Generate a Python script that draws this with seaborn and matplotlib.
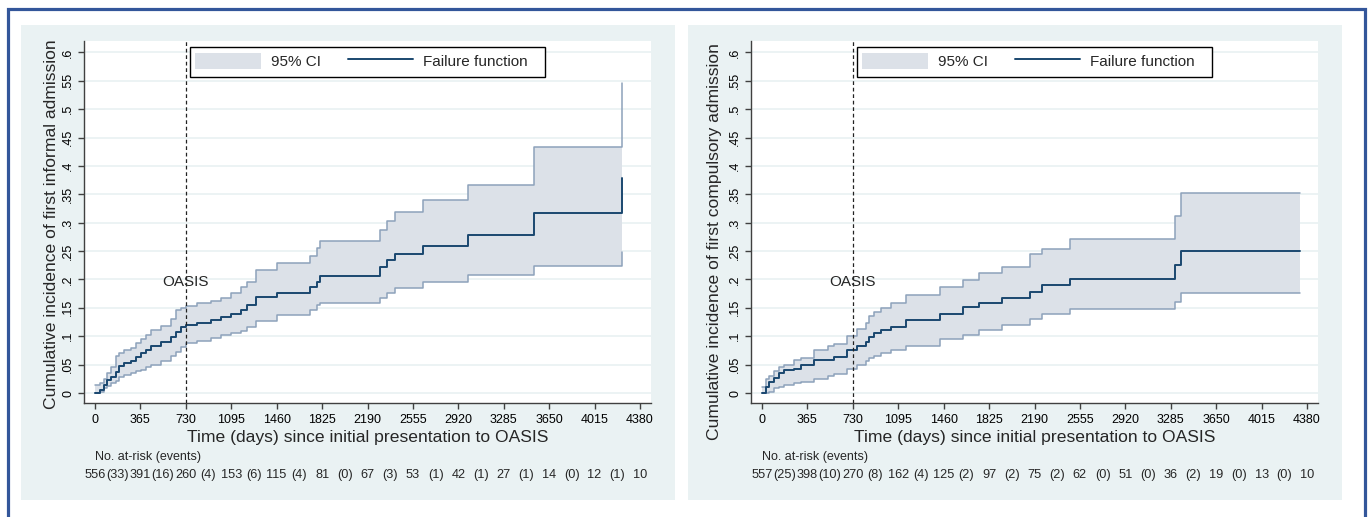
import numpy as np
import pandas as pd
import matplotlib
matplotlib.use("Agg")
import matplotlib.pyplot as plt
from matplotlib import transforms
from matplotlib.patches import Rectangle, Patch
from matplotlib.lines import Line2D
import seaborn as sns

# ---- informal admission (left panel) ----
informal_days = [0, 40, 72, 96, 128, 169, 193, 233, 289, 330, 370, 410, 450, 530,
                 611, 651, 691, 731, 820, 932, 1013, 1093, 1174, 1222, 1294, 1463,
                 1728, 1785, 1808, 2291, 2347, 2411, 2637, 2998, 3530, 4236]
informal_est = [0, .005, .014, .023, .028, .037, .047, .053, .057, .064, .070, .076,
                .083, .090, .099, .107, .116, .120, .123, .128, .133, .139, .146, .155,
                .169, .177, .187, .196, .206, .222, .234, .245, .259, .279, .317, .378]
informal_hi = [.014, .018, .025, .035, .045, .065, .070, .075, .080, .088, .095, .102,
               .111, .118, .131, .146, .150, .153, .158, .162, .167, .176, .187, .196,
               .217, .229, .241, .255, .268, .287, .303, .319, .340, .366, .433, .546]
informal_lo = [0, .002, .008, .012, .017, .022, .028, .032, .036, .039, .041, .045,
               .049, .056, .065, .072, .081, .088, .092, .097, .102, .105, .109, .116,
               .126, .138, .147, .155, .158, .167, .176, .185, .196, .208, .224, .248]
informal_at_risk = [556, 391, 260, 153, 115, 81, 67, 53, 42, 27, 14, 12, 10]
informal_events = [33, 16, 4, 6, 4, 0, 3, 1, 1, 1, 0, 1]

# ---- compulsory admission (right panel) ----
compulsory_days = [0, 32, 59, 99, 139, 179, 259, 313, 420, 527, 580, 687, 767, 834,
                   861, 901, 954, 1035, 1155, 1427, 1612, 1748, 1925, 2157, 2254,
                   2478, 3320, 3368, 4322]
compulsory_est = [0, .011, .020, .026, .035, .040, .043, .049, .058, .059, .064, .076,
                  .083, .090, .099, .105, .111, .116, .128, .140, .151, .158, .167,
                  .178, .190, .200, .225, .250, .250]
compulsory_hi = [.011, .024, .030, .038, .045, .050, .058, .062, .075, .082, .087, .100,
                 .112, .123, .135, .143, .149, .158, .173, .187, .199, .211, .222,
                 .245, .254, .271, .312, .352, .352]
compulsory_lo = [0, 0, .002, .008, .011, .014, .017, .019, .024, .030, .034, .043,
                 .050, .057, .062, .066, .070, .076, .082, .095, .102, .111, .120,
                 .130, .139, .148, .160, .176, .176]
compulsory_at_risk = [557, 398, 270, 162, 125, 97, 75, 62, 51, 36, 19, 13, 10]
compulsory_events = [25, 10, 8, 4, 2, 2, 2, 0, 0, 2, 0, 0]

tick_days = [0, 365, 730, 1095, 1460, 1825, 2190, 2555, 2920, 3285, 3650, 4015, 4380]
y_ticks = [0, .05, .1, .15, .2, .25, .3, .35, .4, .45, .5, .55, .6]
y_tick_labels = ["0", ".05", ".1", ".15", ".2", ".25", ".3", ".35", ".4", ".45",
                 ".5", ".55", ".6"]

NAVY = "#1A476F"
CI_FILL = "#DCE1E8"
CI_EDGE = "#8DA2BB"
PANEL = "#EAF2F3"
FRAME = "#33569A"
AXIS = "#404040"

sns.set_theme(style="white")
plt.rcParams["font.family"] = ["Liberation Sans", "DejaVu Sans"]

W, H = 1368, 517
fig = plt.figure(figsize=(W / 100, H / 100), dpi=100)
fig.patch.set_facecolor("white")


def fig_rect(x0, y0, x1, y1, **kw):
    # pixel box measured from the top-left corner
    r = Rectangle((x0 / W, 1 - y1 / H), (x1 - x0) / W, (y1 - y0) / H,
                  transform=fig.transFigure, **kw)
    fig.patches.append(r)


fig_rect(21, 25, 675, 500, facecolor=PANEL, edgecolor="none", zorder=-2)
fig_rect(688, 25, 1342, 500, facecolor=PANEL, edgecolor="none", zorder=-2)
fig_rect(8, 9, 1365, 540, facecolor="none", edgecolor=FRAME, lw=2.3, zorder=-1)


def draw_panel(ax, days, est, lo, hi, at_risk, events, ylabel, ylabel_xy):
    ax.set_facecolor("white")
    ax.fill_between(days, lo, hi, step="post", color=CI_FILL, lw=0, zorder=1)
    df = pd.DataFrame({"day": days, "est": est, "lo": lo, "hi": hi})
    for col, color, lw in [("lo", CI_EDGE, 1.1), ("hi", CI_EDGE, 1.1), ("est", NAVY, 1.4)]:
        sns.lineplot(data=df, x="day", y=col, ax=ax, color=color, lw=lw,
                     drawstyle="steps-post", estimator=None, errorbar=None, zorder=3)

    ax.axvline(730, color="#222222", ls=(0, (3, 2.2)), lw=0.9, zorder=4)
    ax.text(730, 0.196, "OASIS", ha="center", va="center", fontsize=11, zorder=5)

    ax.set_xlim(-88, 4468)
    ax.set_ylim(-0.0176, 0.62)
    ax.set_xticks(tick_days)
    ax.set_yticks(y_ticks)
    ax.set_yticklabels(y_tick_labels, rotation=90, va="center")
    ax.yaxis.grid(True, color=PANEL, lw=1.3)
    ax.xaxis.grid(False)
    ax.set_axisbelow(True)
    for s in ["top", "right"]:
        ax.spines[s].set_visible(False)
    for s in ["left", "bottom"]:
        ax.spines[s].set_color(AXIS)
        ax.spines[s].set_linewidth(1.0)
    ax.tick_params(bottom=True, left=True, direction="out", length=4, width=1,
                   color=AXIS, labelsize=9.0, labelcolor="black")
    ax.tick_params(axis="x", pad=4)
    ax.tick_params(axis="y", pad=3)

    ax.set_xlabel("Time (days) since initial presentation to OASIS", fontsize=12.6,
                  labelpad=3)
    ax.set_ylabel(ylabel, fontsize=12.6)
    ax.yaxis.set_label_coords(*ylabel_xy)

    tr = transforms.blended_transform_factory(ax.transData, ax.transAxes)
    ax.text(0, -0.150, "No. at-risk (events)", transform=tr, ha="left",
            va="center", fontsize=9.0, clip_on=False)
    for d, n in zip(tick_days, at_risk):
        ax.text(d, -0.200, str(n), transform=tr, ha="center", va="center",
                fontsize=9.2, clip_on=False)
    for i, e in enumerate(events):
        mid = (tick_days[i] + tick_days[i + 1]) / 2
        ax.text(mid, -0.200, f"({e})", transform=tr, ha="center", va="center",
                fontsize=9.2, clip_on=False)

    # legend box drawn separately so its width matches the original
    ax.add_patch(Rectangle((0.187, 0.983 - 30 / 362), 0.626, 30 / 362,
                           transform=ax.transAxes, facecolor="white",
                           edgecolor="black", lw=1.0, zorder=6, clip_on=False))
    handles = [Patch(facecolor=CI_FILL, edgecolor="none", label="95% CI"),
               Line2D([], [], color=NAVY, lw=1.4, label="Failure function")]
    leg = ax.legend(handles=handles, ncol=2, loc="upper left",
                    bbox_to_anchor=(0.187, 0.983), borderaxespad=0, fontsize=11,
                    handlelength=4.3, handleheight=1.3, handletextpad=0.65,
                    columnspacing=1.75, borderpad=0.35, frameon=False)
    leg.set_zorder(7)


ax1 = fig.add_axes([84 / W, 1 - 403 / H, 567 / W, 362 / H])
draw_panel(ax1, informal_days, informal_est, informal_lo, informal_hi,
           informal_at_risk, informal_events,
           "Cumulative incidence of first informal admission", (-0.044, 0.494))

ax2 = fig.add_axes([751 / W, 1 - 403 / H, 567 / W, 362 / H])
draw_panel(ax2, compulsory_days, compulsory_est, compulsory_lo, compulsory_hi,
           compulsory_at_risk, compulsory_events,
           "Cumulative incidence of first compulsory admission", (-0.051, 0.445))

fig.savefig("out.png", dpi=100)
